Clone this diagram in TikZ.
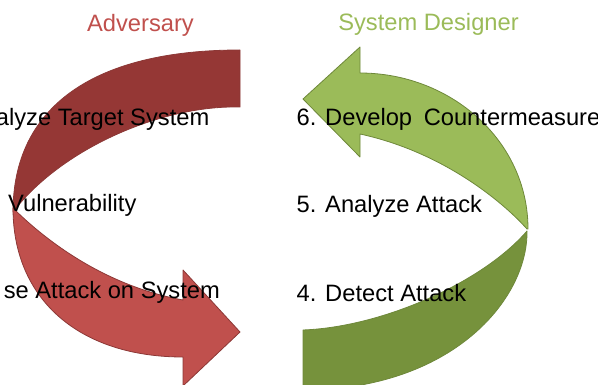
\documentclass[tikz,border=0pt]{standalone}
\usepackage{fontspec}
\setmainfont{Liberation Sans}
\definecolor{advred}{RGB}{192,80,77}
\definecolor{advreddark}{RGB}{149,55,53}
\definecolor{advredline}{RGB}{140,56,54}
\definecolor{desgreen}{RGB}{155,187,89}
\definecolor{desgreendark}{RGB}{118,146,60}
\definecolor{desgreenline}{RGB}{110,136,58}
\begin{document}
\begin{tikzpicture}[x=1pt,y=-1pt,
  steptext/.style={inner sep=0pt, font=\fontsize{23.7}{28}\selectfont},
  redband/.style={draw=advredline, line width=0.8pt, line join=round},
  greenband/.style={draw=desgreenline, line width=0.8pt, line join=round}]
\useasboundingbox (0,0) rectangle (598,385);
\clip (0,0) rectangle (598,385);

% --- Adversary cycle (red) ---
% back half of the twisted band, ending in the tail
\path[redband, fill=advreddark]
  (240,50) -- (240,107)
  .. controls (160,105) and (60,150) .. (13,212)
  .. controls (13,108) and (92,50) .. (240,50) -- cycle;
% front half of the band with the arrow head
\path[redband, fill=advred]
  (13,208) .. controls (40,235) and (100,285) .. (183,300)
  -- (183,270) -- (240,332) -- (183,386) -- (183,357)
  .. controls (80,357) and (13,300) .. (13,208) -- cycle;

% --- System designer cycle (green) ---
% back half of the twisted band, ending in the tail
\path[greenband, fill=desgreendark]
  (303,390) -- (303,330)
  .. controls (383,327) and (483,282) .. (527,231)
  .. controls (528,300) and (451,390) .. (303,390) -- cycle;
% front half of the band with the arrow head
\path[greenband, fill=desgreen]
  (527,229) .. controls (503,202) and (443,152) .. (360,134)
  -- (360,157) -- (303,99) -- (360,47) -- (360,73)
  .. controls (450,73) and (528,140) .. (528,229) -- cycle;

% --- headings ---
\node[steptext, anchor=base, text=advred] (adv) at (140.5,31.5) {Adversary};
\node[steptext, anchor=base, text=desgreen] (des) at (428.5,31) {System Designer};

% --- steps ---
\node[steptext, anchor=base east] (s1) at (209.5,126) {alyze Target System};
\node[steptext, anchor=base west] (s2) at (8,211.5) {Vulnerability};
\node[steptext, anchor=base east] (s3) at (220,298.5) {se Attack on System};
\node[steptext, anchor=base west] (s4) at (296.5,301.5) {4. Detect Attack};
\node[steptext, anchor=base west] (s5) at (296.5,212.5) {5. Analyze Attack};
\node[steptext, anchor=base west] (s6) at (296.5,126) {6. Develop\hspace{0.49em}Countermeasure};
\end{tikzpicture}
\end{document}
